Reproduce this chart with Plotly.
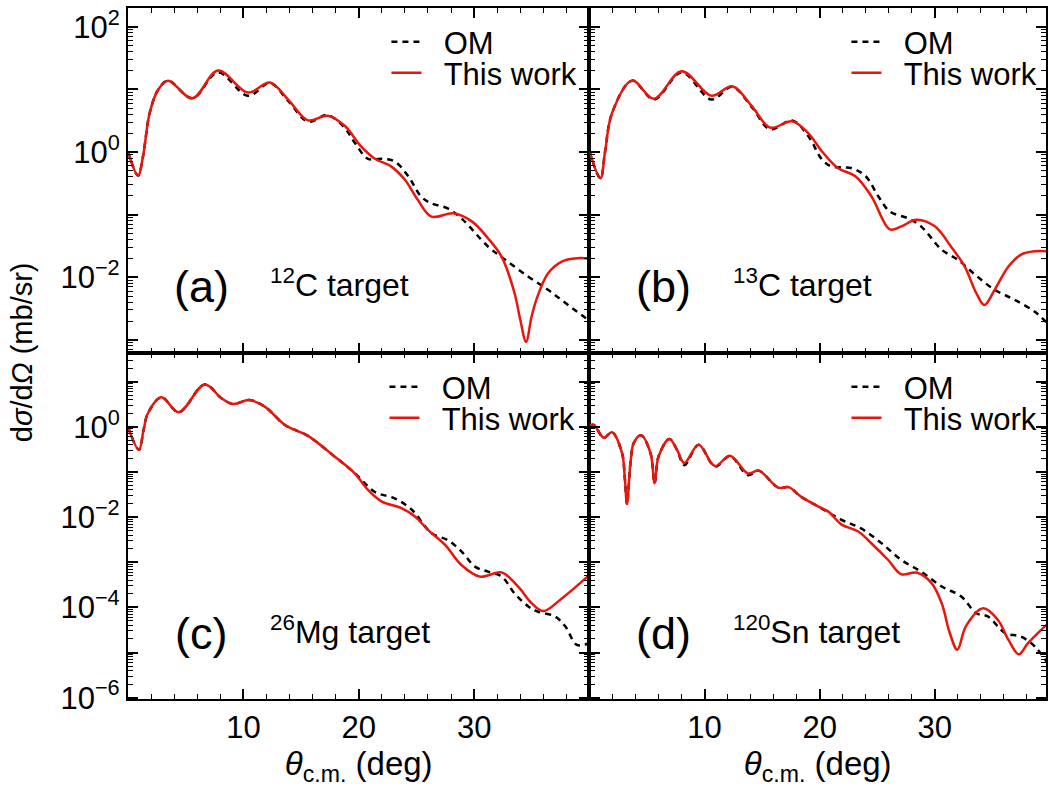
import plotly.graph_objects as go

# ---------------- data ----------------
# Panel (a) 12C target
a_red_x = [0, 0.87, 1.3, 1.88, 2.6, 3.47, 5.58, 7.8, 10.4, 12.3, 13.9, 15.6, 17.3, 18.8, 20.2, 21.4,
           22.8, 24.0, 25.1, 26.3, 28.2, 29.8, 31.2, 32.4, 33.5, 34.0, 34.5, 34.97, 35.4, 36.4, 37.6, 38.7, 40.0]
a_red_y = [1.02, 0.42, 0.85, 4.2, 9.8, 13.8, 7.2, 20, 8.9, 12.9, 6.8, 3.2, 3.8, 2.6, 1.23, 0.78,
           0.59, 0.36, 0.174, 0.093, 0.105, 0.078, 0.042, 0.021, 0.0056, 0.0021, 0.00093, 0.0023, 0.0044, 0.0115, 0.0178, 0.020, 0.020]
a_om_x = [0, 0.87, 1.3, 1.88, 2.6, 3.47, 5.58, 7.8, 10.4, 12.3, 13.9, 15.6, 17.3, 18.8, 19.65, 20.8,
          22.0, 23.1, 24.3, 25.4, 26.3, 27.7, 28.9, 31.2, 32.7, 34.7, 36.4, 37.9, 40.0]
a_om_y = [1.02, 0.42, 0.85, 4.2, 9.8, 13.8, 7.2, 18.6, 7.9, 12.6, 6.5, 3.05, 3.9, 2.4, 1.41, 0.78,
          0.78, 0.71, 0.41, 0.195, 0.151, 0.126, 0.087, 0.031, 0.019, 0.0102, 0.0063, 0.0039, 0.0020]

# Panel (b) 13C target
b_red_x = [0, 0.95, 1.35, 1.96, 3.7, 5.6, 8.0, 10.6, 12.4, 14.1, 15.7, 17.6, 19.0, 20.2, 21.6, 23.1,
           24.5, 26.1, 27.1, 28.4, 30.0, 31.4, 32.6, 33.6, 34.3, 35.2, 36.4, 37.5, 38.7, 39.7]
b_red_y = [1.02, 0.38, 1.0, 4.2, 13.8, 7.1, 19.5, 7.9, 11.2, 5.4, 2.45, 3.1, 2.0, 1.02, 0.55, 0.41,
           0.195, 0.058, 0.065, 0.083, 0.065, 0.031, 0.0148, 0.0056, 0.0036, 0.0063, 0.0148, 0.023, 0.026, 0.026]
b_om_x = [0, 0.95, 1.35, 1.96, 3.7, 5.6, 8.0, 10.6, 12.4, 14.1, 15.7, 17.6, 19.0, 20.2, 21.0, 22.8,
          24.0, 25.1, 26.1, 27.7, 28.8, 30.6, 32.0, 33.5, 35.2, 36.9, 38.7, 39.7]
b_om_y = [1.02, 0.38, 1.0, 4.2, 13.8, 6.9, 18.6, 6.9, 11.0, 5.2, 2.3, 3.2, 1.8, 0.76, 0.59, 0.55,
          0.41, 0.195, 0.112, 0.087, 0.065, 0.0275, 0.019, 0.011, 0.0063, 0.0044, 0.0028, 0.0019]

# Panel (c) 26Mg target
c_red_x = [0, 0.95, 1.35, 1.73, 2.9, 4.4, 6.65, 8.1, 9.1, 10.5, 11.85, 13.6, 15.6, 17.9, 19.65, 20.8,
           22.0, 23.7, 24.9, 26.0, 27.5, 28.9, 30.5, 32.4, 33.8, 35.0, 36.0, 37.6, 39.9]
c_red_y = [1.0, 0.31, 0.85, 2.0, 4.5, 2.1, 8.7, 4.3, 3.2, 3.9, 2.8, 1.1, 0.63, 0.22, 0.093, 0.040,
           0.022, 0.0158, 0.0102, 0.0052, 0.0024, 0.00087, 0.00048, 0.00059, 0.00029, 0.000123, 0.000083, 0.000158, 0.0005]
c_om_x = [0, 0.95, 1.35, 1.73, 2.9, 4.4, 6.65, 8.1, 9.1, 10.5, 11.85, 13.6, 15.6, 17.9, 19.65, 21.4,
          23.1, 24.6, 26.3, 27.7, 28.9, 30.1, 31.2, 32.4, 33.5, 34.7, 35.5, 37.0, 37.9, 38.9, 39.9]
c_om_y = [1.0, 0.31, 0.85, 2.0, 4.5, 2.1, 8.7, 4.3, 3.2, 3.9, 2.8, 1.1, 0.63, 0.22, 0.095, 0.036,
          0.026, 0.0145, 0.0044, 0.0031, 0.00174, 0.00079, 0.00062, 0.00048, 0.000204, 0.000105, 0.000081, 0.000063, 0.000038, 0.0000148, 0.0000158]

# Panel (d) 120Sn target
d_red_x = [0, 0.37, 1.24, 1.96, 2.83, 3.06, 3.26, 3.56, 3.85, 4.48, 5.3, 5.66, 6.0, 6.94, 7.6, 8.24,
           9.48, 10.9, 12.2, 13.76, 14.7, 16.4, 17.3, 18.4, 19.9, 20.75, 21.9, 23.35, 24.5, 25.95, 27.1,
           28.4, 29.7, 30.6, 31.3, 31.96, 32.7, 34.2, 35.5, 36.4, 37.3, 38.1, 39.7]
d_red_y = [1.05, 1.1, 0.57, 0.76, 0.26, 0.079, 0.0195, 0.158, 0.44, 0.65, 0.26, 0.056, 0.22, 0.54, 0.31, 0.158,
           0.40, 0.135, 0.229, 0.093, 0.107, 0.045, 0.046, 0.028, 0.017, 0.0132, 0.0068, 0.0048, 0.0026, 0.00112, 0.00054,
           0.00059, 0.00035, 0.000123, 0.000027, 0.0000115, 0.000038, 0.000095, 0.000052, 0.000019, 0.0000091, 0.0000162, 0.000041]
d_om_x = [0, 0.37, 1.24, 1.96, 2.83, 3.06, 3.26, 3.56, 3.85, 4.48, 5.3, 5.66, 6.0, 6.94, 7.6, 8.24,
          9.48, 10.9, 12.2, 13.76, 14.7, 16.4, 17.3, 18.4, 19.9, 21.9, 23.6, 25.4, 27.1, 28.8, 30.6,
          32.3, 33.6, 34.6, 36.1, 37.5, 38.7, 39.7]
d_om_y = [1.05, 1.1, 0.57, 0.76, 0.26, 0.079, 0.0195, 0.158, 0.44, 0.65, 0.26, 0.056, 0.22, 0.54, 0.31, 0.141,
          0.40, 0.132, 0.224, 0.085, 0.107, 0.045, 0.046, 0.028, 0.017, 0.0087, 0.0056, 0.0026, 0.00112, 0.00062, 0.00029,
          0.000174, 0.000074, 0.000063, 0.000027, 0.0000224, 0.0000135, 0.0000063]

panel_tags = ["(a)", "(b)", "(c)", "(d)"]
targets = ["<sup>12</sup>C target", "<sup>13</sup>C target", "<sup>26</sup>Mg target", "<sup>120</sup>Sn target"]
series_names = ["OM", "This work"]
x_tick_vals = [10, 20, 30]
x_tick_text = ["10", "20", "30"]

# ---------------- style ----------------
FONT = "Liberation Sans, Arial, Helvetica, sans-serif"
RED = "rgb(232,22,12)"
W, H = 1049, 790
L, R, T, B = 128, 1, 8, 91
PW, PH = W - L - R, H - T - B
GAP = "\u00a0\u00a0"  # extra room between legend key and its text

def px_x(p):
    return (p - L) / PW

def px_y(p):
    return (H - B - p) / PH

xdiv = px_x(590.5)
ydiv = px_y(353)
domains = {
    1: ([0, xdiv], [ydiv, 1]),
    2: ([xdiv, 1], [ydiv, 1]),
    3: ([0, xdiv], [0, ydiv]),
    4: ([xdiv, 1], [0, ydiv]),
}

fig = go.Figure()
data = [
    (a_om_x, a_om_y, a_red_x, a_red_y),
    (b_om_x, b_om_y, b_red_x, b_red_y),
    (c_om_x, c_om_y, c_red_x, c_red_y),
    (d_om_x, d_om_y, d_red_x, d_red_y),
]
for i, (ox, oy, rx, ry) in enumerate(data, start=1):
    xa = "x" if i == 1 else f"x{i}"
    ya = "y" if i == 1 else f"y{i}"
    lg_om = "legend" if i == 1 else f"legend{2 * i - 1}"
    lg_red = f"legend{2 * i}"
    fig.add_trace(go.Scatter(x=ox, y=oy, mode="lines", name=GAP + series_names[0], xaxis=xa, yaxis=ya,
                             line=dict(color="black", width=2.5, dash="6px,5px", shape="spline", smoothing=1.0),
                             legend=lg_om))
    fig.add_trace(go.Scatter(x=rx, y=ry, mode="lines", name=GAP + series_names[1], xaxis=xa, yaxis=ya,
                             line=dict(color=RED, width=2.5, shape="spline", smoothing=1.0),
                             legend=lg_red))

axis_common = dict(showline=True, linecolor="black", linewidth=2.2, mirror="ticks",
                   ticks="inside", ticklen=10, tickwidth=1.5, tickcolor="black",
                   showgrid=False, zeroline=False,
                   tickfont=dict(family=FONT, size=31, color="black"))

minor_y = [m * 10 ** k for k in range(-7, 3) for m in range(2, 10)]

layout = dict(width=W, height=H, margin=dict(l=L, r=R, t=T, b=B),
              paper_bgcolor="white", plot_bgcolor="white", showlegend=True,
              font=dict(family=FONT, color="black"))

for i in range(1, 5):
    xd, yd = domains[i]
    xk = "xaxis" if i == 1 else f"xaxis{i}"
    yk = "yaxis" if i == 1 else f"yaxis{i}"
    xa_anchor = "y" if i == 1 else f"y{i}"
    ya_anchor = "x" if i == 1 else f"x{i}"
    bottom = i in (3, 4)
    left = i in (1, 3)
    xrange = [0, 40] if left else [0, 39.66]
    layout[xk] = dict(axis_common, domain=xd, anchor=xa_anchor, range=xrange,
                      tickmode="array", tickvals=x_tick_vals, ticktext=x_tick_text,
                      showticklabels=bottom,
                      minor=dict(ticks="inside", ticklen=5, tickwidth=1.2, tickcolor="black",
                                 tick0=0, dtick=2, showgrid=False))
    if i in (1, 2):
        yrange = [-3.21, 2.30]
        tv = [1e-3, 1e-2, 1e-1, 1, 10, 100]
        tt = ["", "10<sup>−2</sup>", "", "10<sup>0</sup>", "", "10<sup>2</sup>"]
    else:
        yrange = [-6.03, 1.635]
        tv = [1e-6, 1e-5, 1e-4, 1e-3, 1e-2, 1e-1, 1, 10]
        tt = ["10<sup>−6</sup>", "", "10<sup>−4</sup>", "", "10<sup>−2</sup>", "", "10<sup>0</sup>", ""]
    layout[yk] = dict(axis_common, domain=yd, anchor=ya_anchor, type="log", range=yrange,
                      tickmode="array", tickvals=tv, ticktext=tt, showticklabels=left,
                      minor=dict(ticks="inside", ticklen=5, tickwidth=1.2, tickcolor="black",
                                 tickvals=minor_y, showgrid=False))
    if bottom:
        layout[xk]["title"] = dict(text="<i>θ</i><sub>c.m.</sub> (deg)",
                                   font=dict(family=FONT, size=33, color="black"), standoff=4)

# legends: one entry per legend so each row can be placed exactly
legend_rows = {
    1: (387, 42), 2: (387, 73),
    3: (848, 42), 4: (848, 73),
    5: (385, 387), 6: (385, 418),
    7: (848, 387), 8: (848, 418),
}
for k, (px, py) in legend_rows.items():
    lk = "legend" if k == 1 else f"legend{k}"
    layout[lk] = dict(x=px_x(px), y=px_y(py), xanchor="left", yanchor="middle",
                      bgcolor="rgba(0,0,0,0)", borderwidth=0,
                      font=dict(family=FONT, size=31, color="black"),
                      itemwidth=30)

fig.update_layout(**layout)

# panel labels
tag_pos = {1: (202, 286), 2: (665, 286), 3: (201, 633), 4: (665, 633)}
tgt_pos = {1: (268, 283), 2: (732, 283), 3: (268, 630), 4: (732, 630)}
for i in range(1, 5):
    tx, ty = tag_pos[i]
    fig.add_annotation(text=panel_tags[i - 1], xref="paper", yref="paper", x=px_x(tx), y=px_y(ty),
                       xanchor="center", yanchor="middle", showarrow=False,
                       font=dict(family=FONT, size=45, color="black"))
    gx, gy = tgt_pos[i]
    fig.add_annotation(text=targets[i - 1], xref="paper", yref="paper", x=px_x(gx), y=px_y(gy),
                       xanchor="left", yanchor="middle", showarrow=False,
                       font=dict(family=FONT, size=32, color="black"))

# y-axis title
fig.add_annotation(text="d<i>σ</i>/d<i>Ω</i> (mb/sr)", xref="paper", yref="paper",
                   x=px_x(22), y=px_y(352), xanchor="center", yanchor="middle",
                   textangle=-90, showarrow=False, font=dict(family=FONT, size=29, color="black"))

fig.write_html("out.html", config={"displayModeBar": False},
               post_script="document.body.style.margin='0';")
